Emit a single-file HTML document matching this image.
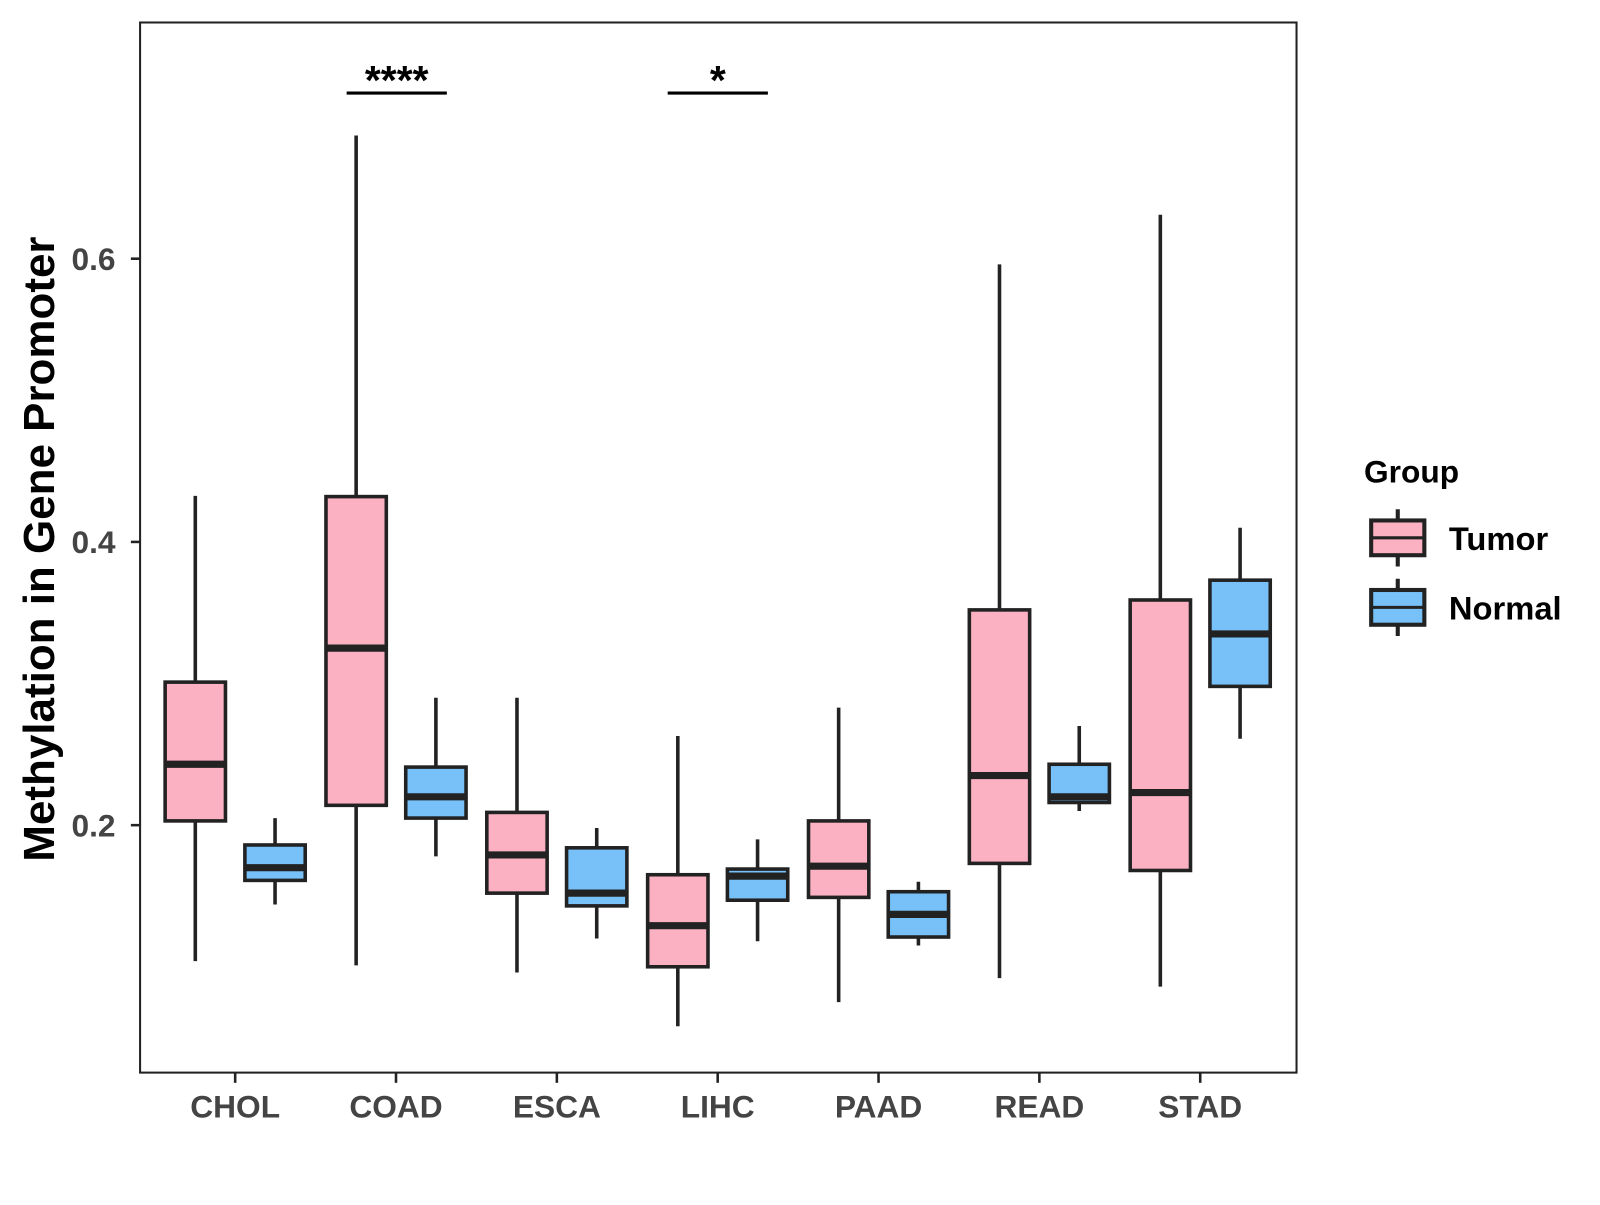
<!DOCTYPE html>
<html><head><meta charset="utf-8"><style>
body{margin:0;background:#fff;width:1600px;height:1200px;overflow:hidden}
svg text{font-family:"Liberation Sans",Arial,sans-serif;font-weight:bold}
</style></head><body>
<svg id="chart" width="1600" height="1200">
<g transform="scale(1.0225)">
<rect x="137" y="22" width="1131" height="1027" fill="none" stroke="#222" stroke-width="2"/>
<g id="boxes"></g>
<g id="axes"></g>
<text x="0" y="0" transform="translate(53,537) rotate(-90)" text-anchor="middle" font-size="43" fill="#000">Methylation in Gene Promoter</text>
<g>
<line x1="339" y1="91" x2="437" y2="91" stroke="#000" stroke-width="3"/>
<text x="388" y="92" text-anchor="middle" font-size="40">****</text></g>
<g>
<line x1="653" y1="91" x2="751" y2="91" stroke="#000" stroke-width="3"/>
<text x="702" y="92" text-anchor="middle" font-size="40">*</text></g>
<g>
<text x="1334" y="472" font-size="31" fill="#000">Group</text>
<g>
<line x1="1367" y1="498" x2="1367" y2="554" stroke="#222" stroke-width="4"/>
<rect x="1341" y="509" width="52" height="34" fill="#FBB1C2" stroke="#222" stroke-width="4"/>
<line x1="1341" y1="526" x2="1393" y2="526" stroke="#222" stroke-width="3"/>
<text x="1417" y="538" font-size="32" fill="#000">Tumor</text></g>
<g>
<line x1="1367" y1="566" x2="1367" y2="622" stroke="#222" stroke-width="4"/>
<rect x="1341" y="577" width="52" height="34" fill="#77C1F8" stroke="#222" stroke-width="4"/>
<line x1="1341" y1="594" x2="1393" y2="594" stroke="#222" stroke-width="3"/>
<text x="1417" y="606" font-size="32" fill="#000">Normal</text></g>
</g>
</g>
</svg>
<script>
const categories=["CHOL","COAD","ESCA","LIHC","PAAD","READ","STAD"];
// [low, q1, median, q3, high]
const tumor=[[0.104,0.203,0.243,0.301,0.4325],[0.101,0.214,0.325,0.432,0.687],[0.096,0.152,0.179,0.209,0.290],[0.058,0.100,0.129,0.165,0.263],[0.075,0.149,0.171,0.203,0.283],[0.092,0.173,0.235,0.352,0.596],[0.086,0.168,0.223,0.359,0.631]];
const normal=[[0.144,0.161,0.170,0.186,0.205],[0.178,0.205,0.220,0.241,0.290],[0.120,0.143,0.152,0.184,0.198],[0.118,0.147,0.164,0.169,0.190],[0.115,0.121,0.137,0.153,0.160],[0.210,0.216,0.220,0.243,0.270],[0.261,0.298,0.335,0.373,0.410]];
const yTicks=[0.2,0.4,0.6];
const NS="http://www.w3.org/2000/svg";
function y(v){return 807-(v-0.2)*1385;}
function x(i){return 230+i*157.3;}
const gb=document.getElementById('boxes'),ga=document.getElementById('axes');
function mk(tag,attrs,parent){const e=document.createElementNS(NS,tag);for(const k in attrs)e.setAttribute(k,attrs[k]);parent.appendChild(e);return e;}
function box(cx,d,fill,name){
  const g=mk('g',{},gb);
  
  
  const w=59;
  mk('line',{x1:cx,x2:cx,y1:y(d[4]),y2:y(d[0]),stroke:'#222','stroke-width':3.5},g);
  mk('rect',{x:cx-w/2,y:y(d[3]),width:w,height:y(d[1])-y(d[3]),fill:fill,stroke:'#222','stroke-width':3.5},g);
  mk('line',{x1:cx-w/2,x2:cx+w/2,y1:y(d[2]),y2:y(d[2]),stroke:'#222','stroke-width':7},g);
}
categories.forEach((c,i)=>{
  box(x(i)-39,tumor[i],'#FBB1C2','box-tumor-'+c.toLowerCase());
  box(x(i)+39,normal[i],'#77C1F8','box-normal-'+c.toLowerCase());
  mk('line',{x1:x(i),x2:x(i),y1:1049,y2:1059,stroke:'#222','stroke-width':2.5},ga);
  const t=mk('text',{x:x(i),y:1093,'text-anchor':'middle','font-size':31,fill:'#444'},ga);
  
  
  t.textContent=c;
});
yTicks.forEach(v=>{
  mk('line',{x1:128,x2:137,y1:y(v),y2:y(v),stroke:'#222','stroke-width':2.5},ga);
  const t=mk('text',{x:113,y:y(v)+11,'text-anchor':'end','font-size':31,fill:'#444'},ga);
  
  
  t.textContent=v.toFixed(1);
});
</script>
</body></html>
